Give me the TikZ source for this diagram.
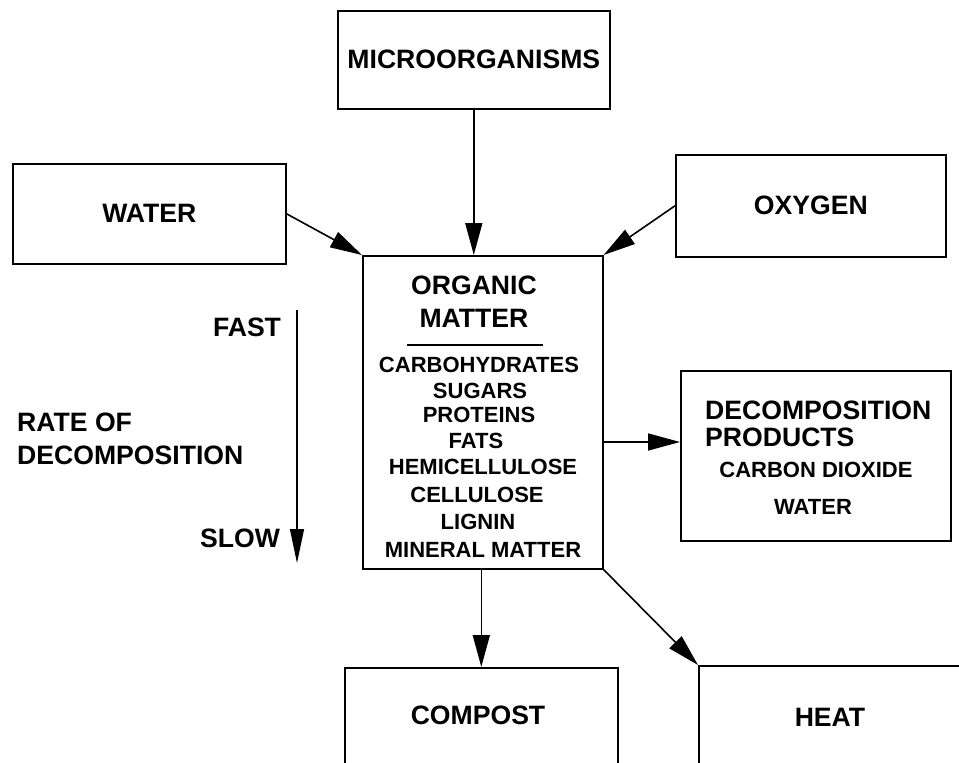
\documentclass[tikz,border=0pt]{standalone}
\usepackage{fontspec}
\setmainfont{Liberation Sans}
\usetikzlibrary{arrows.meta}

\begin{document}
\begin{tikzpicture}[x=1pt,y=-1pt,
  boxnode/.style={draw, line width=1.6pt, inner sep=0pt, anchor=north west},
  big/.style={font=\fontsize{26.6}{30}\selectfont\bfseries, inner sep=0pt},
  small/.style={font=\fontsize{22}{26}\selectfont\bfseries, inner sep=0pt},
  flow/.style={line width=1.6pt, -{Triangle[length=32pt,width=17pt]}},
]
% page frame; the two lowest boxes run off its edges
\clip (0,0) rectangle (959,763);
\fill[white] (0,0) rectangle (959,763);

% inputs
\node[boxnode, big, minimum width=272pt, minimum height=98pt] (micro) at (337,10) {MICROORGANISMS};
\node[boxnode, big, minimum width=273pt, minimum height=100pt] (water) at (12,163) {WATER};
\node[boxnode, big, minimum width=270pt, minimum height=102pt] (oxy) at (675,154) {OXYGEN};

% organic matter box and its contents
\node[boxnode, minimum width=240pt, minimum height=313pt] (org) at (362,255) {};
\node[big]   (orgA) at (474,285) {ORGANIC};
\node[big]   (orgB) at (474,318) {MATTER};
\coordinate (ruleL) at (407,345);
\coordinate (ruleR) at (543,345);
\draw[line width=1.2pt] (ruleL) -- (ruleR);
\node[small] (c1) at (479,365) {CARBOHYDRATES};
\node[small] (c2) at (480,391) {SUGARS};
\node[small] (c3) at (479,415) {PROTEINS};
\node[small] (c4) at (476,441) {FATS};
\node[small] (c5) at (483,467) {HEMICELLULOSE};
\node[small] (c6) at (477,495) {CELLULOSE};
\node[small] (c7) at (478,522) {LIGNIN};
\node[small] (c8) at (483,550) {MINERAL MATTER};

% decomposition products
\node[boxnode, minimum width=270pt, minimum height=170pt] (dec) at (680,370) {};
\node[big, anchor=west]   (d1) at (705,410) {DECOMPOSITION};
\node[big, anchor=west]   (d2) at (705,437) {PRODUCTS};
\node[small] (d3) at (816,470) {CARBON DIOXIDE};
\node[small] (d4) at (813,507) {WATER};
\coordinate (decin) at (680,442);

% outputs at the bottom
\node[boxnode, minimum width=273pt, minimum height=110pt] (compost) at (344,667) {};
\node[big] (compostT) at (478,715) {COMPOST};
\node[boxnode, minimum width=270pt, minimum height=110pt] (heat) at (698,665) {};
\node[big] (heatT) at (830,717) {HEAT};

% rate scale on the left
\node[big, anchor=west] (rate1) at (17,422) {RATE OF};
\node[big, anchor=west] (rate2) at (17,455) {DECOMPOSITION};
\node[big] (fast) at (247,327) {FAST};
\node[big] (slow) at (240,538) {SLOW};
\coordinate (ratetop) at (297,310);
\coordinate (ratebot) at (297,563);

% connectors
\draw[flow] (micro.south) -- (micro.south |- org.north);
\draw[flow] (water.east) -- (org.north west);
\draw[flow] (oxy.west) -- (org.north east);
\draw[flow] (org.east |- decin) -- (decin);
\draw[flow] (compost.north |- org.south) -- (compost.north);
\draw[flow] (org.south east) -- (heat.north west);
\draw[line width=1.2pt, -{Triangle[length=34pt,width=14pt]}] (ratetop) -- (ratebot);
\end{tikzpicture}
\end{document}
